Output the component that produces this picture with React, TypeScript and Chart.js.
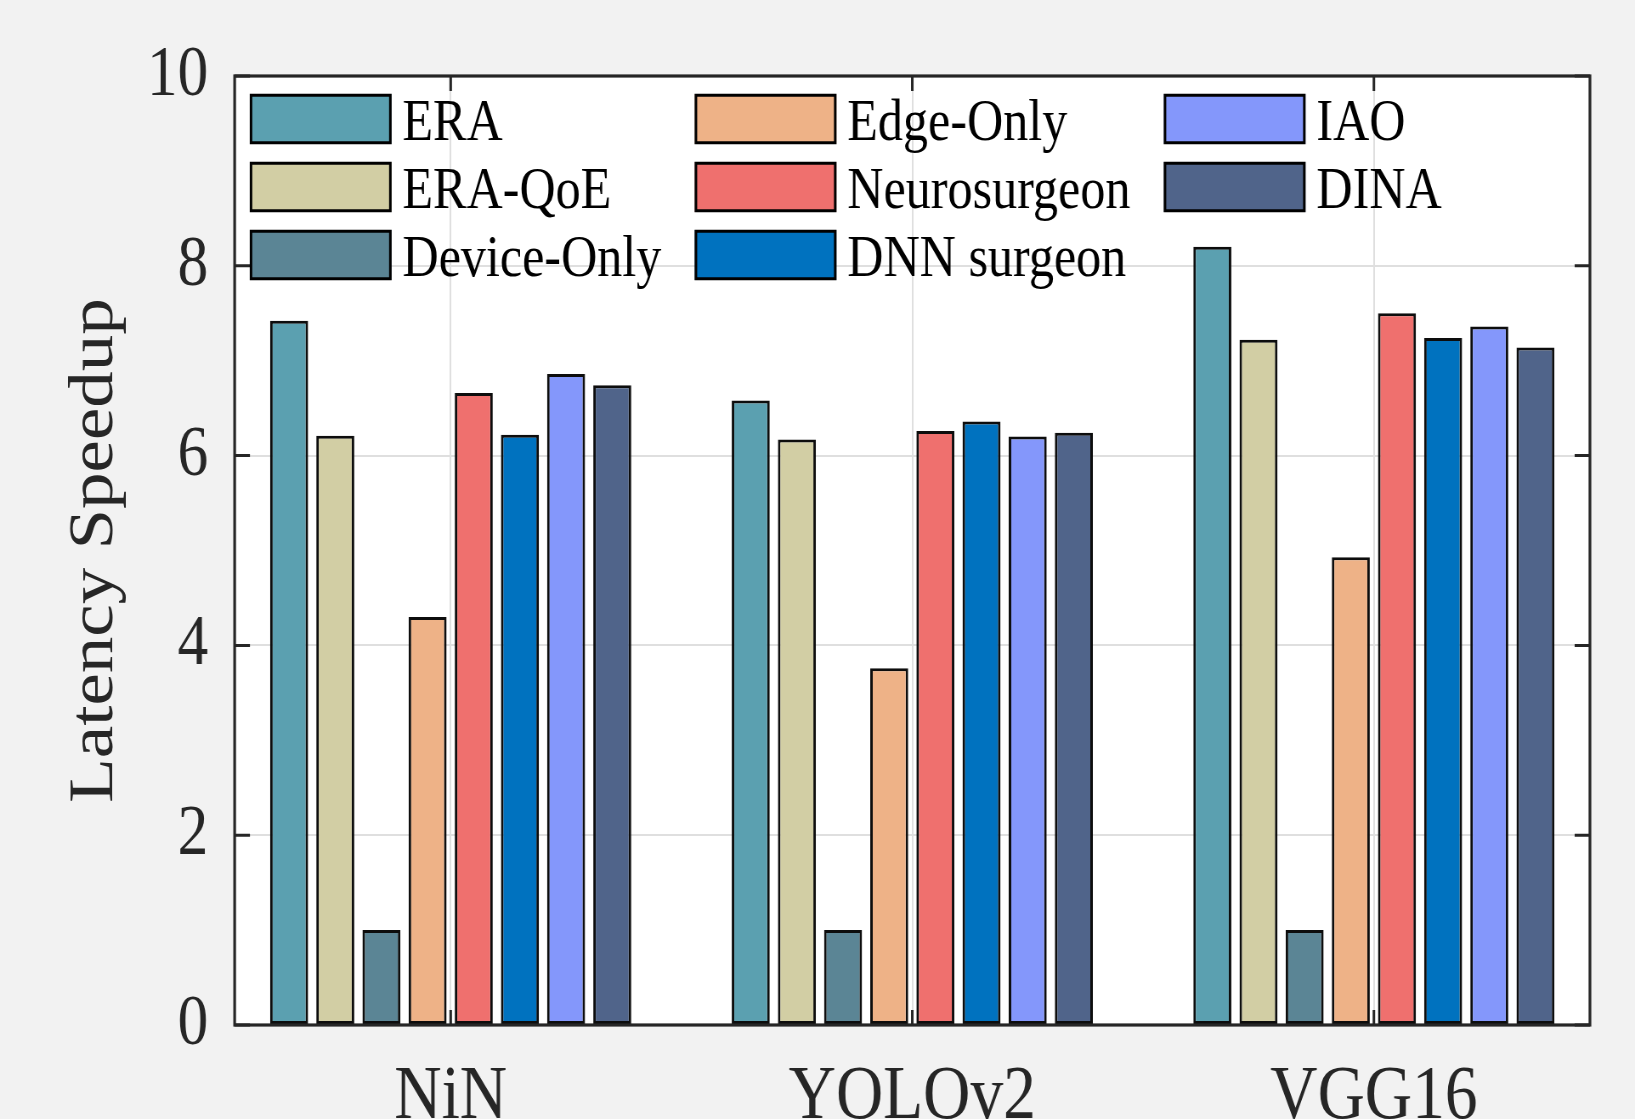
import React, { useEffect, useRef } from 'react';
import { Chart, registerables } from 'chart.js';

Chart.register(...registerables);

// ---- data ----
const categories = ['NiN', 'YOLOv2', 'VGG16'];
const seriesNames = ['ERA', 'ERA-QoE', 'Device-Only', 'Edge-Only', 'Neurosurgeon', 'DNN surgeon', 'IAO', 'DINA'];
const seriesColors = ['#5BA0B0', '#D2CEA4', '#5B8595', '#EEB287', '#EF706E', '#0072BF', '#8497FB', '#50648A'];
const eraValues = [7.42, 6.58, 8.2];
const eraQoeValues = [6.21, 6.17, 7.22];
const deviceOnlyValues = [1.0, 1.0, 1.0];
const edgeOnlyValues = [4.3, 3.76, 4.93];
const neurosurgeonValues = [6.66, 6.26, 7.5];
const dnnSurgeonValues = [6.22, 6.36, 7.24];
const iaoValues = [6.86, 6.2, 7.36];
const dinaValues = [6.74, 6.24, 7.14];
const yTicks = [0, 2, 4, 6, 8, 10];
const yLabel = 'Latency Speedup';

const seriesValues = [eraValues, eraQoeValues, deviceOnlyValues, edgeOnlyValues, neurosurgeonValues, dnnSurgeonValues, iaoValues, dinaValues];

// ---- layout (the reference figure is horizontally squeezed) ----
const SX = 0.85;
const W = Math.round(1635 / SX);
const H = 1119;
const FONT = '"Liberation Serif", "Times New Roman", serif';
const AX = '#262626';

const framePlugin = {
  id: 'frame',
  beforeDraw(chart: any) {
    const { ctx, chartArea } = chart;
    ctx.save();
    ctx.fillStyle = '#F2F2F2';
    ctx.fillRect(0, 0, chart.width, chart.height);
    ctx.fillStyle = '#FFFFFF';
    ctx.fillRect(chartArea.left, chartArea.top, chartArea.right - chartArea.left, chartArea.bottom - chartArea.top);
    ctx.restore();
  },
  afterDatasetsDraw(chart: any) {
    const { ctx, chartArea } = chart;
    const { left, right, top, bottom } = chartArea;
    const xs = chart.scales.x;
    const ys = chart.scales.y;
    ctx.save();
    ctx.strokeStyle = AX;
    ctx.lineWidth = 3;
    ctx.beginPath();
    yTicks.forEach((v) => {
      const py = ys.getPixelForValue(v);
      ctx.moveTo(left, py);
      ctx.lineTo(left + 18, py);
      ctx.moveTo(right, py);
      ctx.lineTo(right - 18, py);
    });
    categories.forEach((_, i) => {
      const px = xs.getPixelForValue(i + 1);
      ctx.moveTo(px, bottom);
      ctx.lineTo(px, bottom - 15);
      ctx.moveTo(px, top);
      ctx.lineTo(px, top + 15);
    });
    ctx.stroke();
    ctx.lineWidth = 3.2;
    ctx.strokeRect(left, top, right - left, bottom - top);
    ctx.restore();
  },
  afterDraw(chart: any) {
    const { ctx } = chart;
    const rowTops = [94, 162, 230];
    const boxW = 141.5 / SX;
    const boxH = 50;
    const gap = 11 / SX;
    const colGap = 33.5 / SX;
    ctx.save();
    ctx.font = `59px ${FONT}`;
    ctx.textBaseline = 'alphabetic';
    ctx.textAlign = 'left';
    let x = 250 / SX;
    const ds = chart.data.datasets;
    for (let c = 0; c * 3 < ds.length; c++) {
      let maxW = 0;
      for (let r = 0; r < 3; r++) {
        const i = c * 3 + r;
        if (i >= ds.length) break;
        const y = rowTops[r];
        ctx.fillStyle = ds[i].backgroundColor;
        ctx.fillRect(x, y, boxW, boxH);
        ctx.strokeStyle = '#000';
        ctx.lineWidth = 3;
        ctx.strokeRect(x + 1.25, y + 1.25, boxW - 2.5, boxH - 2.5);
        ctx.fillStyle = '#000';
        ctx.fillText(ds[i].label, x + boxW + gap, y + 46);
        maxW = Math.max(maxW, ctx.measureText(ds[i].label).width);
      }
      x += boxW + gap + maxW + colGap;
    }
    ctx.restore();
  },
};

export default function App() {
  const ref = useRef<HTMLCanvasElement | null>(null);

  useEffect(() => {
    const canvas = ref.current;
    if (!canvas) return;
    document.body.style.margin = '0';
    document.body.style.background = '#F2F2F2';

    const datasets = seriesNames.map((name, s) => ({
      label: name,
      data: categories.map((_, i) => ({ x: i + 1, y: seriesValues[s][i] })),
      backgroundColor: seriesColors[s],
      borderColor: '#0d0d0d',
      borderWidth: 3,
      borderSkipped: false,
      categoryPercentage: 0.8,
      barPercentage: 0.823,
    }));

    const chart = new Chart(canvas, {
      type: 'bar',
      data: { datasets },
      options: {
        responsive: false,
        animation: false,
        devicePixelRatio: 1,
        layout: { padding: { top: 76, right: W - 1590.3 / SX, left: 0, bottom: 0 } },
        plugins: {
          legend: { display: false },
          tooltip: { enabled: false },
        },
        scales: {
          x: {
            type: 'linear',
            offset: false,
            min: 0.532,
            max: 3.468,
            afterBuildTicks: (scale: any) => {
              scale.ticks = categories.map((_, i) => ({ value: i + 1 }));
            },
            afterFit: (scale: any) => {
              scale.height = H - 1025;
            },
            grid: { display: true, offset: false, color: '#DFDFDF', lineWidth: 2, drawTicks: false },
            border: { display: false },
            ticks: {
              autoSkip: false,
              maxRotation: 0,
              padding: 27,
              color: AX,
              font: { family: FONT, size: 77 },
              callback: (v: any) => categories[Math.round(v) - 1] ?? '',
            },
          },
          y: {
            type: 'linear',
            min: 0,
            max: 10,
            afterBuildTicks: (scale: any) => {
              scale.ticks = yTicks.map((v) => ({ value: v }));
            },
            afterFit: (scale: any) => {
              scale.width = 234.7 / SX;
            },
            grid: { display: true, color: '#DFDFDF', lineWidth: 2, drawTicks: false },
            border: { display: false },
            ticks: {
              padding: 31,
              color: AX,
              font: { family: FONT, size: 72 },
            },
            title: {
              display: true,
              text: yLabel,
              color: AX,
              font: { family: FONT, size: 73 },
              padding: { top: 69, bottom: 0 },
            },
          },
        },
      },
      plugins: [framePlugin],
    } as any);

    return () => chart.destroy();
  }, []);

  return (
    <div style={{ position: 'absolute', left: 0, top: 0, width: 1635, height: 1119, overflow: 'hidden' }}>
      <canvas ref={ref} width={W} height={H} style={{ width: '1635px', height: '1119px', display: 'block' }} />
    </div>
  );
}
